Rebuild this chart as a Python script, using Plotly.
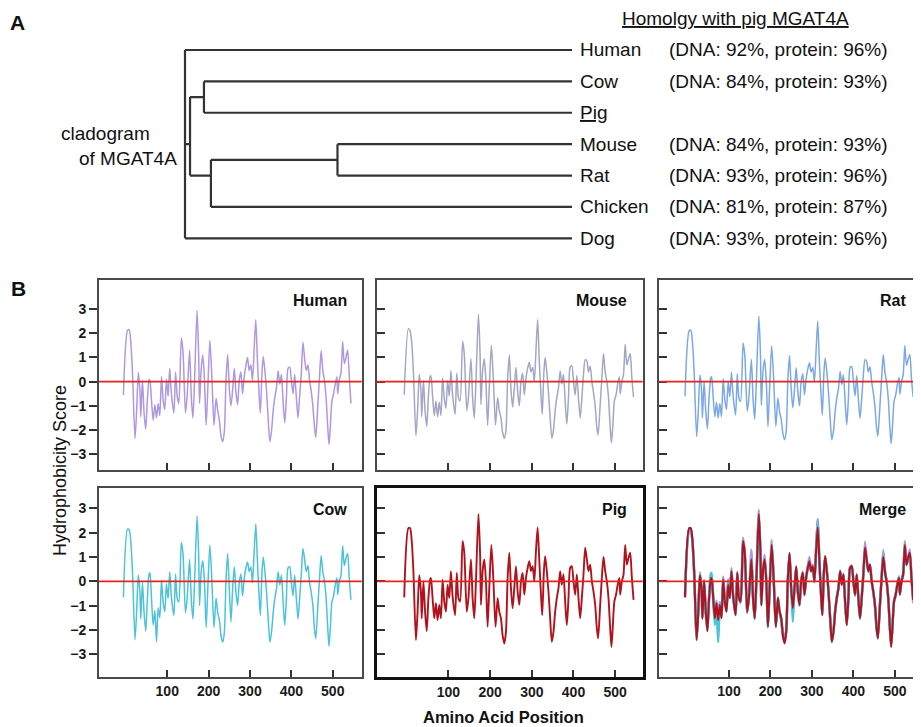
import plotly.graph_objects as go

# ---------------- Panel A: cladogram data ----------------
leaf_names = ["Human", "Cow", "Pig", "Mouse", "Rat", "Chicken", "Dog"]
leaf_labels = ["Human", "Cow", "<u>Pig</u>", "Mouse", "Rat", "Chicken", "Dog"]
homology = ["(DNA: 92%, protein: 96%)", "(DNA: 84%, protein: 93%)", "",
            "(DNA: 84%, protein: 93%)", "(DNA: 93%, protein: 96%)",
            "(DNA: 81%, protein: 87%)", "(DNA: 93%, protein: 96%)"]
node_names = ["root", "A", "CP", "MRC", "MR"]
node_depths = [0.0, 0.013, 0.049, 0.067, 0.394]
node_children = [["Human", "A", "Dog"], ["CP", "MRC"], ["Cow", "Pig"],
                 ["MR", "Chicken"], ["Mouse", "Rat"]]
leaf_depth = 1.0

# ---------------- Panel B: hydrophobicity profiles ----------------
positions = [-6, 4, 8, 12, 16, 22, 26, 30, 34, 36, 40, 44, 48, 52, 56, 58, 62, 66, 70, 74,
             78, 82, 86, 90, 94, 98, 102, 106, 110, 116, 120, 124, 128, 134, 138, 144, 148, 154, 158, 162,
             166, 172, 176, 178, 182, 186, 190, 194, 198, 203, 208, 213, 218, 222, 226, 230, 234, 238, 242, 246,
             250, 254, 258, 262, 266, 270, 274, 278, 282, 286, 290, 294, 298, 302, 306, 310, 314, 318, 322, 325,
             329, 332, 336, 340, 344, 348, 352, 356, 360, 364, 368, 372, 376, 380, 384, 388, 392, 396, 400, 404,
             408, 412, 416, 420, 424, 428, 432, 436, 440, 444, 448, 452, 456, 459, 464, 468, 472, 476, 480, 484,
             488, 491, 494, 498, 502, 506, 510, 512, 516, 520, 524, 528, 532, 536, 540, 544]

pig = [-0.66, 2.19, 2.19, 1.66, 0.42, -2.42, -1.25, 0.25, -0.42, -1.52,
       0.0, -1.25, -2.05, -0.69, 0.07, 0.14, -0.69, -1.52, -0.90, -1.59,
       -0.97, -1.52, 0.07, -0.83, -1.25, -0.14, -0.69, 0.42, -0.62, -1.39,
       0.35, -0.69, -0.83, 1.66, 1.18, -1.25, -0.69, 0.90, -0.69, -1.52,
       0.0, 2.77, 1.11, -0.97, 0.42, 0.90, 0.0, -1.87, -0.28, 1.50,
       0.0, -1.87, -0.69, -1.25, -1.52, -2.22, -2.56, -2.08, 0.14, 1.18,
       -0.28, -1.11, -0.28, 0.62, -0.42, -0.97, 0.0, 0.35, -0.55, 0.14,
       0.55, 0.83, 0.42, 0.62, 0.0, 1.25, 2.22, 0.83, -0.55, -1.39,
       0.42, 1.04, 0.42, -0.42, -1.52, -2.49, -2.08, -1.25, -0.69, -0.28,
       0.42, -0.14, 0.28, -0.83, -1.80, -0.69, 0.55, 0.62, 0.0, -0.55,
       0.28, -0.69, -1.52, -0.69, 0.28, 1.39, 0.90, 0.42, 0.69, 0.0,
       -0.42, -0.97, -1.94, -2.35, -0.97, 0.14, 1.00, 0.42, 0.0, -0.69,
       -1.94, -2.70, -1.94, -0.83, -0.55, -0.14, 0.14, -0.55, 0.0, 0.28,
       1.50, 0.69, 0.97, 1.18, 0.14, -0.76]

human = [-0.55, 2.12, 2.15, 1.60, 0.35, -2.35, -1.20, 0.38, -0.40, -1.45,
         0.05, -1.30, -1.96, -0.75, 0.10, 0.05, -0.80, -1.60, -0.95, -1.50,
         -0.90, -1.40, 0.20, -0.75, -1.15, 0.10, -0.60, 0.55, -0.50, -1.30,
         0.40, -0.60, -0.90, 1.80, 1.25, -1.30, -0.60, 1.30, -0.60, -1.50,
         0.05, 2.95, 1.05, -0.90, 0.50, 1.10, 0.05, -1.80, -0.30, 1.70,
         0.10, -1.80, -0.70, -1.20, -1.60, -2.25, -2.48, -2.05, 0.10, 1.12,
         -0.30, -1.00, -0.35, 0.55, -0.45, -0.95, 0.05, 0.40, -0.50, 0.20,
         0.65, 1.00, 0.45, 0.70, 0.05, 1.35, 2.56, 0.85, -0.55, -1.30,
         0.40, 1.04, 0.45, -0.40, -1.55, -2.48, -2.05, -1.20, -0.65, -0.25,
         0.45, -0.10, 0.30, -0.85, -1.70, -0.65, 0.55, 0.60, 0.05, -0.50,
         0.30, -0.65, -1.50, -0.60, 0.35, 1.63, 0.95, 0.45, 0.70, 0.05,
         -0.40, -1.00, -1.90, -2.30, -0.95, 0.20, 1.29, 0.45, 0.05, -0.70,
         -1.90, -2.60, -1.90, -0.80, -0.50, -0.10, 0.20, -0.50, 0.10, 0.35,
         1.66, 0.75, 1.00, 1.30, 0.20, -0.90]

mouse = [-0.54, 2.19, 2.10, 1.60, 0.40, -2.24, -1.20, 0.30, -0.35, -1.45,
         0.05, -1.20, -1.85, -0.60, 0.20, 0.25, -0.60, -1.40, -0.80, -1.45,
         -0.85, -1.40, 0.15, -0.70, -1.10, 0.05, -0.60, 0.45, -0.55, -1.35,
         0.35, -0.65, -0.80, 1.67, 1.15, -1.20, -0.65, 0.95, -0.65, -1.50,
         0.0, 2.78, 1.10, -0.95, 0.45, 0.95, 0.0, -1.80, -0.25, 1.50,
         0.0, -1.80, -0.65, -1.20, -1.50, -2.10, -2.34, -2.00, 0.10, 1.10,
         -0.30, -1.05, -0.30, 0.60, -0.40, -1.00, 0.0, 0.35, -0.55, 0.15,
         0.55, 0.80, 0.40, 0.60, 0.0, 1.30, 2.57, 0.80, -0.55, -1.35,
         0.40, 1.00, 0.40, -0.45, -1.50, -2.34, -2.00, -1.20, -0.65, -0.25,
         0.45, -0.10, 0.30, -0.80, -1.75, -0.65, 0.60, 0.65, 0.0, -0.55,
         0.25, -0.70, -1.50, -0.70, 0.30, 0.91, 0.85, 0.40, 0.65, 0.0,
         -0.45, -1.00, -1.90, -2.20, -0.95, 0.15, 1.16, 0.40, 0.0, -0.65,
         -1.90, -2.52, -1.90, -0.80, -0.55, -0.10, 0.20, -0.50, 0.0, 0.30,
         1.54, 0.70, 0.95, 1.15, 0.15, -0.64]

rat = [-0.60, 2.10, 2.12, 1.62, 0.40, -2.27, -1.22, 0.28, -0.40, -1.50,
       0.02, -1.22, -1.95, -0.65, 0.15, 0.20, -0.65, -1.45, -0.85, -1.50,
       -0.90, -1.45, 0.12, -0.75, -1.15, 0.0, -0.62, 0.40, -0.60, -1.38,
       0.33, -0.68, -0.82, 1.60, 1.12, -1.22, -0.68, 0.92, -0.68, -1.55,
       0.0, 2.71, 1.08, -0.98, 0.42, 0.92, 0.0, -1.85, -0.28, 1.48,
       0.0, -1.85, -0.68, -1.25, -1.55, -2.15, -2.40, -2.05, 0.10, 1.08,
       -0.30, -1.08, -0.30, 0.58, -0.42, -1.00, 0.0, 0.33, -0.55, 0.12,
       0.52, 0.78, 0.40, 0.58, 0.0, 1.25, 2.50, 0.80, -0.55, -1.38,
       0.40, 0.98, 0.40, -0.45, -1.52, -2.40, -2.05, -1.22, -0.68, -0.28,
       0.42, -0.12, 0.28, -0.82, -1.78, -0.68, 0.58, 0.62, 0.0, -0.58,
       0.25, -0.72, -1.52, -0.72, 0.28, 0.92, 0.82, 0.40, 0.62, 0.0,
       -0.45, -1.02, -1.92, -2.25, -0.98, 0.12, 1.12, 0.38, 0.0, -0.68,
       -1.92, -2.56, -1.92, -0.82, -0.55, -0.12, 0.18, -0.52, 0.0, 0.28,
       1.49, 0.68, 0.92, 1.12, 0.12, -0.64]

cow = [-0.66, 2.15, 2.12, 1.60, 0.35, -2.40, -1.25, 0.25, -0.45, -1.55,
       -0.05, -1.30, -2.05, -0.70, 0.30, 0.35, -0.75, -1.80, -1.20, -2.50,
       -1.10, -1.50, 0.05, -0.85, -1.25, -0.10, -0.70, 0.40, -0.65, -1.40,
       0.30, -0.70, -0.85, 1.60, 1.15, -1.30, -0.70, 0.90, -0.70, -1.55,
       -0.05, 2.70, 1.05, -1.00, 0.40, 0.85, -0.05, -1.90, -0.30, 1.50,
       -0.05, -1.90, -0.70, -1.30, -1.60, -2.25, -2.50, -2.10, 0.05, 1.15,
       -0.35, -1.67, -0.30, 0.60, -0.45, -1.00, -0.05, 0.30, -0.60, 0.10,
       0.55, 0.80, 0.40, 0.60, -0.05, 1.20, 2.36, 0.80, -0.60, -1.40,
       0.40, 1.00, 0.40, -0.45, -1.55, -2.50, -2.10, -1.30, -0.70, -0.30,
       0.40, -0.15, 0.25, -0.85, -1.80, -0.70, 0.55, 0.60, -0.05, -0.60,
       0.25, -0.70, -1.55, -0.70, 0.30, 1.35, 0.90, 0.40, 0.65, -0.05,
       -0.45, -1.00, -2.00, -2.36, -1.00, 0.10, 1.05, 0.40, 0.0, -0.70,
       -1.95, -2.68, -1.95, -0.85, -0.60, -0.15, 0.15, -0.55, 0.0, 0.25,
       1.46, 0.65, 0.95, 1.15, 0.10, -0.76]

x_tick_vals = [100, 200, 300, 400, 500]
y_tick_vals = [-3, -2, -1, 0, 1, 2, 3]
panel_titles = ["Human", "Mouse", "Rat", "Cow", "Pig", "Merge"]

colors = {"Human": "#b097e2", "Mouse": "#a2a7c8", "Rat": "#7ca8e6",
          "Cow": "#4cc3da", "Pig": "#b3121c"}
series = {"Human": human, "Mouse": mouse, "Rat": rat, "Cow": cow, "Pig": pig}

# page is 921x727; the html body adds an 8px margin, so the figure is drawn 8px in
OFF = 8
FW, FH = 921 - OFF, 727 - OFF
FONT = "Liberation Sans, Arial, sans-serif"


def dx(px):
    return (px - OFF) / FW


def dy(py):
    return 1 - (py - OFF) / FH


col_px = [[99, 361.7], [377.3, 642.7], [659.3, 921]]
row_px = [[280, 470], [488.3, 677.3]]
col_dom = [[dx(a), min(1.0, dx(b))] for a, b in col_px]
row_dom = [[dy(b), dy(a)] for a, b in row_px]
x_ranges = [[-65, 570], [-70.6, 566], [-68, 563]]
y_ranges = [[-3.65, 4.2], [-3.95, 3.83]]

fig = go.Figure()
layout = dict(width=FW, height=FH, margin=dict(l=0, r=0, t=0, b=0),
              paper_bgcolor="white", plot_bgcolor="white", showlegend=False,
              font=dict(family=FONT, color="#1a1a1a"))
shapes = []
annotations = []

for i, title in enumerate(panel_titles):
    n = i + 1
    r, c = divmod(i, 3)
    xa = "xaxis" if n == 1 else f"xaxis{n}"
    ya = "yaxis" if n == 1 else f"yaxis{n}"
    xr = "x" if n == 1 else f"x{n}"
    yr = "y" if n == 1 else f"y{n}"
    is_pig = title == "Pig"
    lc = "#111111" if is_pig else "#4a4a4a"
    lw = 2.8 if is_pig else 2
    layout[xa] = dict(domain=col_dom[c], range=x_ranges[c], anchor=yr,
                      tickvals=x_tick_vals, ticks="inside", ticklen=7, tickwidth=1.6,
                      tickcolor="#333", showticklabels=(r == 1),
                      tickfont=dict(family=FONT, size=14, color="#1a1a1a", weight="bold"),
                      showline=True, mirror=True, linecolor=lc, linewidth=lw,
                      showgrid=False, zeroline=False, fixedrange=True)
    layout[ya] = dict(domain=row_dom[r], range=y_ranges[r], anchor=xr,
                      tickvals=y_tick_vals, ticks=("outside" if c == 0 else "inside"),
                      ticklen=8, tickwidth=1.6, tickcolor="#333",
                      showticklabels=(c == 0),
                      tickfont=dict(family=FONT, size=14, color="#1a1a1a", weight="bold"),
                      showline=True, mirror=(c != 2), linecolor=lc, linewidth=lw,
                      showgrid=False, zeroline=False, fixedrange=True)
    if title == "Merge":
        for sp in ["Human", "Mouse", "Rat", "Cow", "Pig"]:
            fig.add_trace(go.Scatter(x=positions, y=series[sp], mode="lines",
                                     line=dict(color=colors[sp], width=(2.0 if sp == "Pig" else 2.4),
                                               shape="spline", smoothing=0.7),
                                     xaxis=xr, yaxis=yr, hoverinfo="skip"))
    else:
        fig.add_trace(go.Scatter(x=positions, y=series[title], mode="lines",
                                 line=dict(color=colors[title], width=(1.9 if is_pig else 1.5),
                                           shape="spline", smoothing=0.7),
                                 xaxis=xr, yaxis=yr, hoverinfo="skip"))
    shapes.append(dict(type="line", xref=f"{xr} domain", yref=yr, x0=0, x1=1, y0=0, y1=0,
                       line=dict(color="#e3241f", width=1.6), layer="above"))
    annotations.append(dict(text=f"<b>{title}</b>", xref=f"{xr} domain", yref=f"{yr} domain",
                            x=0.95, y=0.89, xanchor="right", yanchor="middle", showarrow=False,
                            font=dict(family=FONT, size=16, color="#111")))

# ---------------- cladogram drawn on its own hidden axes ----------------
leaf_y = {name: float(k) for k, name in enumerate(leaf_names)}
node_x = dict(zip(node_names, node_depths))
node_kids = dict(zip(node_names, node_children))


def leaves_under(name):
    if name in leaf_y:
        return [leaf_y[name]]
    out = []
    for ch in node_kids[name]:
        out += leaves_under(ch)
    return out


def ypos(name):
    ls = leaves_under(name)
    return sum(ls) / len(ls)


def xpos(name):
    return leaf_depth if name in leaf_y else node_x[name]


cx, cy = [], []
for nm in node_names:
    kids_y = [ypos(ch) for ch in node_kids[nm]]
    cx += [node_x[nm], node_x[nm], None]
    cy += [min(kids_y), max(kids_y), None]
    for ch in node_kids[nm]:
        cx += [node_x[nm], xpos(ch), None]
        cy += [ypos(ch), ypos(ch), None]

fig.add_trace(go.Scatter(x=cx, y=cy, mode="lines", line=dict(color="#333333", width=2.2),
                         xaxis="x7", yaxis="y7", hoverinfo="skip"))
# pad the hidden axes so the outer branches are not clipped
step = (238.3 - 50) / 6
PADY = 0.3
PADX = 0.01
span_px = 572 - 185
layout["xaxis7"] = dict(domain=[dx(185 - PADX * span_px), dx(572 + PADX * span_px)],
                        range=[-PADX, 1 + PADX], anchor="y7", visible=False, fixedrange=True)
layout["yaxis7"] = dict(domain=[dy(238.3 + PADY * step), dy(50 - PADY * step)],
                        range=[6 + PADY, -PADY], anchor="x7", visible=False, fixedrange=True)

for k, name in enumerate(leaf_names):
    annotations.append(dict(text=leaf_labels[k], xref="x7", yref="y7", x=leaf_depth, y=k,
                            xshift=6, xanchor="left", yanchor="middle", showarrow=False,
                            font=dict(family=FONT, size=19, color="#111")))
    if homology[k]:
        annotations.append(dict(text=homology[k], xref="paper", yref="y7", x=dx(667), y=k,
                                xanchor="left", yanchor="middle", showarrow=False,
                                font=dict(family=FONT, size=19, color="#111")))

# ---------------- free texts ----------------
texts = [
    ("<b>A</b>", 17.5, 23, 21, "center", 0),
    ("<b>B</b>", 18, 289, 21, "center", 0),
    ("<u>Homolgy with pig MGAT4A</u>", 735, 18, 19, "center", 0),
    ("cladogram", 59, 134, 19, "left", 0),
    ("of MGAT4A", 77, 158, 19, "left", 0),
    ("Hydrophobicity Score", 60, 471, 18, "center", -90),
    ("<b>Amino Acid Position</b>", 503, 717, 16.5, "center", 0),
]
for t, x, y, s, anc, ang in texts:
    annotations.append(dict(text=t, xref="paper", yref="paper", x=dx(x), y=dy(y), xanchor=anc,
                            yanchor="middle", showarrow=False, textangle=ang,
                            font=dict(family=FONT, size=s, color="#111")))

layout["shapes"] = shapes
layout["annotations"] = annotations
fig.update_layout(**layout)
fig.write_html("out.html")
